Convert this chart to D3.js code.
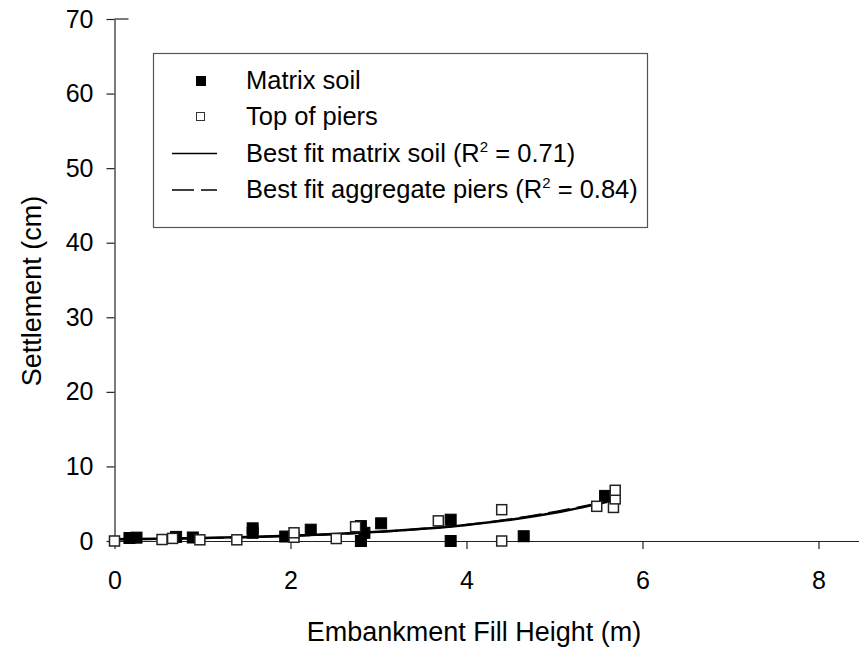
<!DOCTYPE html>
<html>
<head>
<meta charset="utf-8">
<script src="https://cdn.jsdelivr.net/npm/d3@7"></script>
<style>
  html, body { margin: 0; padding: 0; background: #fff; }
  svg { display: block; font-family: "Liberation Sans", Arial, sans-serif; }
</style>
</head>
<body>
<svg id="chart" width="859" height="653"></svg>
<script>
// Settlement measured on the matrix soil and on top of the aggregate piers
const matrixX = [0.17, 0.25, 0.70, 0.89, 1.57, 1.57, 1.94, 2.23, 2.80, 2.84, 2.80, 3.03, 3.82, 3.82, 4.65, 5.575];
const matrixY = [0.40, 0.45, 0.55, 0.47, 1.70, 1.10, 0.60, 1.52, 2.00, 1.10, 0.00, 2.37, 2.86, 0.00, 0.64, 6.05];

const piersX = [0.00, 0.54, 0.66, 0.97, 1.39, 2.04, 2.04, 2.52, 2.74, 3.68, 4.40, 4.40, 5.48, 5.67, 5.69, 5.69];
const piersY = [0.00, 0.20, 0.35, 0.16, 0.16, 0.50, 1.10, 0.33, 1.92, 2.70, 4.20, 0.00, 4.65, 4.50, 5.65, 6.80];

// Best-fit curves
const fitMatrixX = [0, 0.5, 1, 1.5, 2, 2.5, 3, 3.5, 4, 4.5, 5, 5.6];
const fitMatrixY = [0.23, 0.30, 0.40, 0.53, 0.71, 0.93, 1.23, 1.63, 2.16, 2.86, 3.78, 5.25];
const fitPiersX = [0, 0.5, 1, 1.5, 2, 2.5, 3, 3.5, 4, 4.5, 5, 5.7];
const fitPiersY = [0.20, 0.27, 0.37, 0.50, 0.68, 0.91, 1.22, 1.63, 2.18, 2.92, 3.90, 5.55];

// Axis ticks and labels
const xTicks = [0, 2, 4, 6, 8];
const yTicks = [0, 10, 20, 30, 40, 50, 60, 70];
const xTitle = "Embankment Fill Height (m)";
const yTitle = "Settlement (cm)";
const legendItems = [
  { kind: "filled", text: "Matrix soil" },
  { kind: "open", text: "Top of piers" },
  { kind: "solid", text: "Best fit matrix soil (R", sup: "2", tail: " = 0.71)" },
  { kind: "dashed", text: "Best fit aggregate piers (R", sup: "2", tail: " = 0.84)" }
];

const svg = d3.select("#chart");
const axisColor = "#222";

const x = d3.scaleLinear().domain([0, 8.5]).range([114.5, 862.5]);
const y = d3.scaleLinear().domain([0, 70]).range([541, 19]);

// Axes
const xAxis = svg.append("g")
  .attr("transform", `translate(0,${y(0)})`)
  .call(d3.axisBottom(x).tickValues(xTicks).tickFormat(d3.format("d"))
    .tickSize(8).tickPadding(22).tickSizeOuter(0));
const yAxis = svg.append("g")
  .attr("transform", `translate(${x(0)},0)`)
  .call(d3.axisLeft(y).tickValues(yTicks).tickFormat(d3.format("d"))
    .tickSize(8).tickPadding(13).tickSizeOuter(0));

[xAxis, yAxis].forEach(g => {
  g.select(".domain").attr("stroke", axisColor).attr("stroke-width", 1.2);
  g.selectAll(".tick line").attr("stroke", axisColor).attr("stroke-width", 1.2);
  g.selectAll(".tick text").attr("fill", "#000").attr("font-size", 25)
    .attr("font-family", "'Liberation Sans', Arial, sans-serif");
});
// short cap at the top of the y axis
svg.append("line")
  .attr("x1", x(0)).attr("x2", x(0) + 14)
  .attr("y1", y(70)).attr("y2", y(70))
  .attr("stroke", axisColor).attr("stroke-width", 1.2);

// Axis titles
svg.append("text")
  .attr("x", 474).attr("y", 641)
  .attr("text-anchor", "middle")
  .attr("font-size", 27)
  .text(xTitle);
svg.append("text")
  .attr("transform", `translate(41,${291}) rotate(-90)`)
  .attr("text-anchor", "middle")
  .attr("font-size", 27)
  .text(yTitle);

// Markers
const size = 11;
const matrixPts = matrixX.map((v, i) => ({ x: v, y: matrixY[i] }));
const piersPts = piersX.map((v, i) => ({ x: v, y: piersY[i] }));

svg.append("g").selectAll("rect")
  .data(matrixPts).join("rect")
  .attr("x", d => x(d.x) - size / 2)
  .attr("y", d => y(d.y) - size / 2)
  .attr("width", size).attr("height", size)
  .attr("fill", "#000").attr("stroke", "#000").attr("stroke-width", 1);

// Fit curves
const line = d3.line().x(d => x(d[0])).y(d => y(d[1])).curve(d3.curveMonotoneX);
svg.append("path")
  .attr("d", line(fitMatrixX.map((v, i) => [v, fitMatrixY[i]])))
  .attr("fill", "none").attr("stroke", "#000").attr("stroke-width", 2.5);
svg.append("path")
  .attr("d", line(fitPiersX.map((v, i) => [v, fitPiersY[i]])))
  .attr("fill", "none").attr("stroke", "#000").attr("stroke-width", 2)
  .attr("stroke-dasharray", "22,7");

svg.append("g").selectAll("rect")
  .data(piersPts).join("rect")
  .attr("x", d => x(d.x) - size / 2 + 0.5)
  .attr("y", d => y(d.y) - size / 2 + 0.5)
  .attr("width", size - 1).attr("height", size - 1)
  .attr("fill", "#fff").attr("stroke", "#222").attr("stroke-width", 1.5);

// Legend
const legend = svg.append("g");
legend.append("rect")
  .attr("x", 153.5).attr("y", 53.5).attr("width", 494).attr("height", 174)
  .attr("fill", "#fff").attr("stroke", "#555").attr("stroke-width", 1.2);

const rowY = [89, 125, 161.5, 198];
legendItems.forEach((item, i) => {
  const base = rowY[i];
  const g = legend.append("g");
  if (item.kind === "filled") {
    g.append("rect").attr("x", 196).attr("y", base - 13).attr("width", 10).attr("height", 10)
      .attr("fill", "#000");
  } else if (item.kind === "open") {
    g.append("rect").attr("x", 196.5).attr("y", base - 12.5).attr("width", 8).attr("height", 8)
      .attr("fill", "#fff").attr("stroke", "#333").attr("stroke-width", 1);
  } else {
    g.append("line")
      .attr("x1", 172).attr("x2", 217)
      .attr("y1", base - 8).attr("y2", base - 8)
      .attr("stroke", "#000").attr("stroke-width", 1.5)
      .attr("stroke-dasharray", item.kind === "dashed" ? "22,7" : null);
  }
  const t = g.append("text").attr("x", 246).attr("y", base).attr("font-size", 25.5);
  t.append("tspan").text(item.text);
  if (item.sup) {
    t.append("tspan").attr("font-size", 15).attr("dy", -10).text(item.sup);
    t.append("tspan").attr("dy", 10).text(item.tail);
  }
});
</script>
</body>
</html>
